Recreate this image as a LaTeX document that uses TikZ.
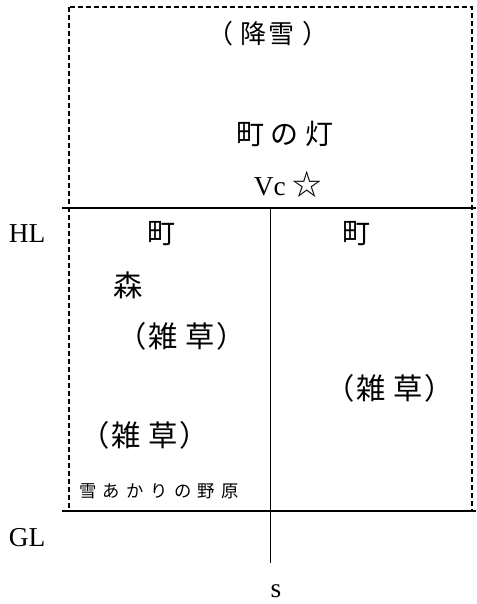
\documentclass[tikz,border=0pt]{standalone}
\usepackage{fontspec}
\setmainfont{Liberation Serif}
\newfontfamily\cjk{Noto Sans CJK JP}
\begin{document}
\begin{tikzpicture}[x=0.75pt,y=-0.75pt,
  rule/.style={line width=0.8pt},
  frame/.style={line width=0.8pt, dash pattern=on 3.75pt off 2.25pt},
  lat/.style={inner sep=0pt, font=\fontsize{20.5}{24}\selectfont},
  jp/.style={inner sep=0pt, font=\cjk\fontsize{21}{25}\selectfont},
  jpbig/.style={inner sep=0pt, font=\cjk\fontsize{22}{26}\selectfont},
  jpsmall/.style={inner sep=0pt, font=\cjk\fontsize{13}{16}\selectfont}]
\useasboundingbox (0,0) rectangle (476,604);
% frame and lines
\coordinate (dA) at (69,7);
\coordinate (dB) at (472,511);
\draw[frame] (dA) rectangle (dB);
\coordinate (hlL) at (62,208);
\coordinate (hlR) at (476,208);
\coordinate (glL) at (62,511);
\coordinate (glR) at (476,511);
\coordinate (vT) at (270.5,208);
\coordinate (vB) at (270.5,563);
\draw[rule] (hlL) -- (hlR);
\draw[rule] (glL) -- (glR);
\draw[rule] (vT) -- (vB);
% labels
\node[jp, font=\cjk\fontsize{19.5}{23}\selectfont] (kousetsu) at (268,34) {（\hspace{6pt}降\hspace{1.5pt}雪\hspace{6pt}）};
\node[jp] (machinohi) at (285,134) {町\hspace{5pt}の\hspace{5pt}灯};
\node[lat] (vc) at (288,184) {Vc {\cjk\fontsize{22}{26}\selectfont ☆}};
\node[lat] (hl) at (27,234) {HL};
\node[lat] (gl) at (27,538) {GL};
\node[lat] (s) at (276,591) {s};
\node[jp] (machiL) at (161,234) {町};
\node[jp] (machiR) at (356,234) {町};
\node[jpbig] (mori) at (128,285) {森};
\node[jpbig] (zassoA) at (182,336) {（\hspace{1.5pt}雑\hspace{5.5pt}草\hspace{1.5pt}）};
\node[jpbig] (zassoB) at (390,388) {（\hspace{1.5pt}雑\hspace{5.5pt}草\hspace{1.5pt}）};
\node[jpbig] (zassoC) at (145,435) {（\hspace{1.5pt}雑\hspace{5.5pt}草\hspace{1.5pt}）};
\node[jpsmall] (nohara) at (159,491) {雪\hspace{4.8pt}あ\hspace{4.8pt}か\hspace{4.8pt}り\hspace{4.8pt}の\hspace{4.8pt}野\hspace{4.8pt}原};
\end{tikzpicture}
\end{document}
